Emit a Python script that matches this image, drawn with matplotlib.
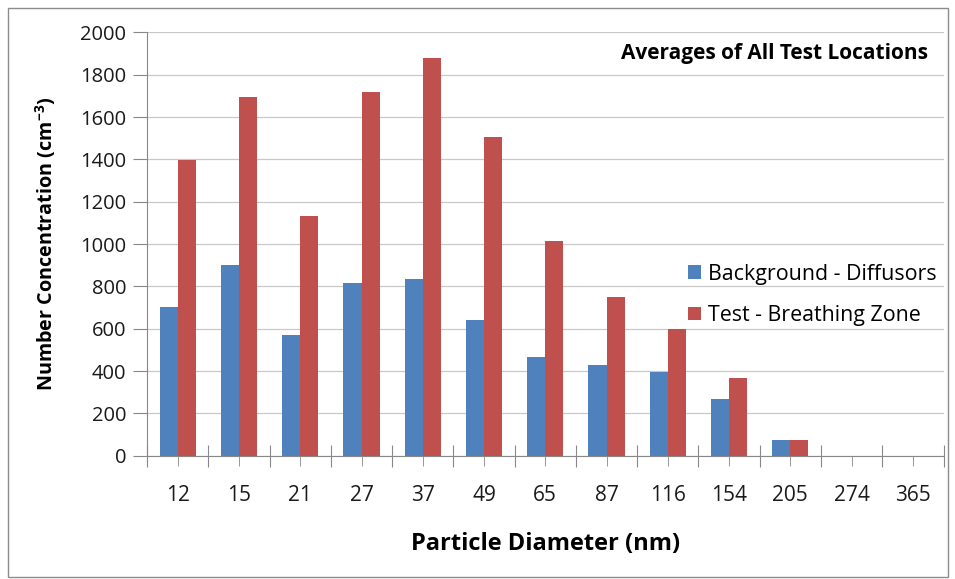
import numpy as np
import matplotlib
matplotlib.use("Agg")
import matplotlib.pyplot as plt
from matplotlib.patches import Rectangle
from matplotlib.ticker import FixedLocator, NullFormatter

plt.rcParams['font.family'] = ['Open Sans', 'DejaVu Sans']
plt.rcParams['mathtext.default'] = 'regular'

diameters = ['12', '15', '21', '27', '37', '49', '65', '87', '116', '154', '205', '274', '365']
background = [704, 901, 572, 816, 836, 642, 465, 428, 397, 266, 73, 0, 0]
test_zone = [1395, 1695, 1131, 1720, 1880, 1504, 1016, 750, 600, 367, 73, 0, 0]
series_names = ['Background - Diffusors', 'Test - Breathing Zone']
colors = ['#4F81BD', '#C0504D']

fig = plt.figure(figsize=(9.55, 5.79), dpi=100)
ax = fig.add_axes([0.154, 0.213, 0.834, 0.731])

# border round the whole chart
fig.patches.append(Rectangle((0.008, 0.003), 0.985, 0.983, transform=fig.transFigure,
                             fill=False, edgecolor='#8c8c8c', linewidth=1.0))

x = np.arange(len(diameters))
w = 0.295
ax.bar(x - w / 2, background, w, color=colors[0], label=series_names[0], zorder=3)
ax.bar(x + w / 2, test_zone, w, color=colors[1], label=series_names[1], zorder=3)

ax.set_xlim(-0.5, len(diameters) - 0.5)
ax.set_ylim(0, 2000)
ax.set_yticks(np.arange(0, 2001, 200))
ax.yaxis.grid(True, color='#c8c8c8', linewidth=0.9, zorder=0)

ax.xaxis.set_major_locator(FixedLocator(np.arange(-0.5, len(diameters), 1.0)))
ax.xaxis.set_major_formatter(NullFormatter())
ax.xaxis.set_minor_locator(FixedLocator(x))
ax.set_xticklabels(diameters, minor=True)
ax.tick_params(axis='x', which='major', direction='inout', length=16, color='#888888')
ax.tick_params(axis='x', which='minor', direction='out', length=7, color='#888888',
               pad=14, labelsize=15, labelcolor='#1a1a1a')
ax.tick_params(axis='y', direction='out', length=10, color='#888888', labelsize=14.5,
               labelcolor='#1a1a1a', pad=5)

for s in ['top', 'right']:
    ax.spines[s].set_visible(False)
for s in ['left', 'bottom']:
    ax.spines[s].set_color('#888888')

ax.set_xlabel('Particle Diameter (nm)', fontsize=17, fontweight='bold', labelpad=19)
ax.set_ylabel('Number Concentration (cm$^{-3}$)', fontsize=14.2, fontweight='bold', labelpad=16)

ax.text(0.98, 0.95, 'Averages of All Test Locations', transform=ax.transAxes,
        ha='right', va='center', fontsize=15, fontweight='bold')

ax.legend(loc='center left', bbox_to_anchor=(0.655, 0.38), frameon=False, fontsize=15.4,
          handlelength=0.6, handleheight=0.6, handletextpad=0.35, labelspacing=0.95)

fig.savefig('out.png', dpi=100)
